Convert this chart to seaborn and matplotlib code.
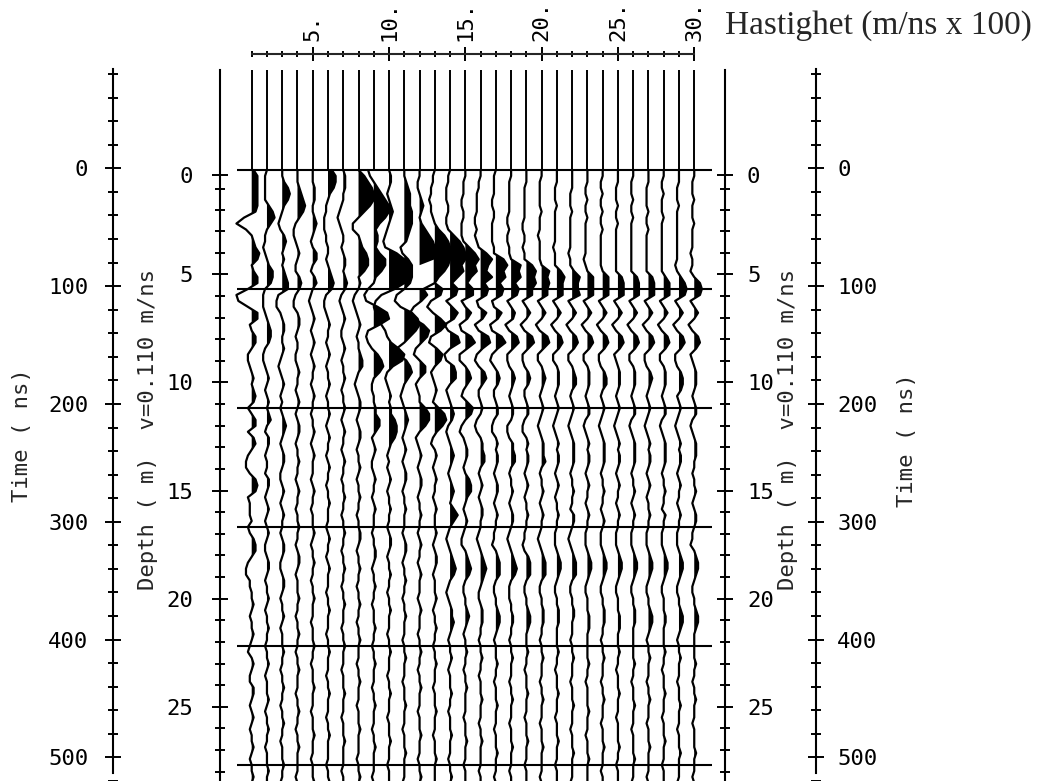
import numpy as np
import pandas as pd
import matplotlib
matplotlib.use("Agg")
import matplotlib.pyplot as plt
import seaborn as sns

sns.set_theme(style="white")
plt.rcParams['font.family'] = ['DejaVu Sans Mono', 'DejaVu Sans']

# ---------------- data ----------------
sample_step_ns = 5
trace_numbers = list(range(1, 31))
ruler_major = [5, 10, 15, 20, 25, 30]
time_major = [0, 100, 200, 300, 400, 500]
depth_major = [0, 5, 10, 15, 20, 25]
velocity = 0.110           # m/ns
title_text = "Hastighet (m/ns x 100)"
time_label = "Time ( ns)"
depth_label = "Depth ( m)  v=0.110 m/ns"

# amplitudes in tenths of a trace spacing, one sample every 5 ns from 0 to 520 ns
trace_01 = [1, 3, 3, 3, 3, 3, 3, 2, -4, -8,  -3, 0, 1, 2, 4, 3, 0, 1, 3, 3,
            -2, -8, -7, -2, 3, 3, -1, 0, 2, 2,  0, -2, -2, -1, 0, 1, 0, 1, 2, 1,
            -2, 0, 2, 2, -2, 1, 2, 0, -2, -3,  -3, -1, 2, 3, 2, -2, -1, -1, -1, 0,
            -2, -1, 1, 2, 2, 0, -2, -3, -3, -1,  -1, 0, 0, 1, 0, -1, 0, 0, 1, 0,
            -1, -2, 0, 1, 0, -1, -1, 1, 1, 0,  -1, 0, 1, 0, -1, 0, 0, 1, 0, -1,
            0, 0, 1, 0, 0]
trace_02 = [0, -1, -1, -1, -1, -1, 1, 3, 4, 2,  0, -1, -1, -2, -1, 0, 1, 3, 3, 2,
            -1, -2, -2, -2, -1, 0, 1, 2, 2, 1,  -1, -2, -2, -1, 0, 1, 0, -1, 0, 1,
            0, 1, 2, 0, -1, 1, 1, 0, -1, 0,  0, -1, 1, 1, 0, -1, 0, 1, 0, -1,
            0, 1, 0, -1, -1, 0, 1, 1, 0, -1,  0, 0, 1, 0, -1, 0, 0, 1, 0, 0,
            -1, 0, 0, 1, 0, -1, 0, 0, 0, 1,  0, -1, 0, 0, 1, 0, 0, -1, 0, 0,
            0, 1, 0, 0, -1]
trace_03 = [0, 0, 1, 3, 4, 3, 1, 0, -1, -2,  -1, 1, 2, 1, 0, 1, 0, 1, 2, 3,
            3, -2, -3, -3, -1, 0, 1, 1, 0, 0,  1, 0, -1, -2, -1, 0, 1, 0, -1, 0,
            -1, 0, 1, 2, 1, 0, -1, 0, 1, 1,  0, -1, -1, 0, 1, 0, -1, 0, 1, 0,
            0, -1, 0, 1, 1, 0, -1, -1, 0, 1,  1, 0, -1, 0, 0, 1, 0, -1, 0, 0,
            0, 1, 0, 0, -1, 0, 0, 1, 0, 0,  -1, 0, 0, 1, 0, 0, -1, 0, 0, 0,
            1, 0, 0, -1, 0]
trace_04 = [0, 0, 0, 1, 2, 3, 4, 3, 1, -1,  -2, -2, -1, 0, 1, 0, -1, -1, 1, 2,
            1, -1, -2, -2, 0, 1, 1, 0, -1, 0,  0, -1, -1, 0, 1, 0, 0, -1, 0, 1,
            0, -1, 0, 1, 1, 0, -1, 0, 0, 1,  0, 0, -1, 0, 1, 0, 0, -1, 0, 0,
            1, 0, 0, -1, 0, 1, 1, 0, -1, 0,  0, 0, 1, 0, 0, -1, 0, 0, 1, 0,
            0, -1, 0, 0, 1, 0, 0, 0, -1, 0,  0, 1, 0, 0, -1, 0, 0, 1, 0, 0,
            0, 0, -1, 0, 0]
trace_05 = [0, 0, 0, 1, 1, 1, 0, 0, 1, 2,  1, 0, -1, 0, 2, 2, 0, -1, 1, 2,
            0, -1, -2, -1, 0, 1, 0, -1, 0, 1,  0, -1, 0, 1, 0, 0, -1, 0, 1, 0,
            0, -1, 0, 0, 1, 0, -1, 0, 1, 0,  0, 0, -1, 0, 1, 0, 0, -1, 0, 0,
            0, 1, 0, -1, 0, 0, 1, 0, 0, -1,  0, 0, 1, 0, 0, 0, -1, 0, 0, 0,
            1, 0, 0, -1, 0, 0, 0, 1, 0, 0,  0, -1, 0, 0, 0, 1, 0, 0, 0, -1,
            0, 0, 0, 1, 0]
trace_06 = [2, 4, 4, 3, 1, 0, -1, -1, -2, -2,  -2, -1, -1, 0, 0, -1, 0, 1, 2, 3,
            2, -1, -2, -2, -1, 0, 1, 0, 0, -1,  0, 1, 0, -1, 0, 0, 1, 0, -1, 0,
            0, 1, 0, -1, 0, 1, 0, 0, -1, 0,  1, 0, 0, -1, 0, 0, 1, 0, 0, 0,
            -1, 0, 1, 0, 0, -1, 0, 1, 0, 0,  0, -1, 0, 0, 1, 0, 0, 0, -1, 0,
            0, 1, 0, 0, 0, -1, 0, 0, 1, 0,  0, 0, -1, 0, 0, 1, 0, 0, 0, 0,
            -1, 0, 0, 1, 0]
trace_07 = [0, 1, 1, 1, 0, 0, -1, -2, -3, -2,  -1, 0, 0, -1, 0, 1, 1, 0, 1, 2,
            1, -1, -2, -1, 0, 1, 0, -1, -1, 0,  1, 0, -1, 0, 0, 1, 0, -1, 0, 0,
            1, 0, -1, 0, 1, 0, 0, -1, 0, 1,  0, 0, -1, 0, 0, 1, 0, 0, -1, 0,
            0, 1, 0, 0, -1, 0, 0, 1, 0, 0,  -1, 0, 0, 1, 0, 0, 0, -1, 0, 0,
            1, 0, 0, 0, -1, 0, 0, 0, 1, 0,  0, 0, -1, 0, 0, 0, 1, 0, 0, 0,
            0, -1, 0, 0, 0]
trace_08 = [0, 3, 5, 7, 8, 8, 6, 3, 0, -3,  -3, 0, 1, 2, 4, 5, 5, 3, 0, 1,
            0, -2, -3, -2, -1, 0, 1, 0, -1, 0,  0, 1, 2, 2, 0, -1, -2, -1, 0, 1,
            1, 0, -1, 0, 1, 1, 0, -1, 0, 0,  1, 0, -1, 0, 0, 1, 0, 0, -1, 0,
            0, 1, 1, 0, -1, 0, 0, 1, 0, 0,  -1, 0, 0, 1, 0, 0, -1, 0, 0, 1,
            0, 0, 0, -1, 0, 0, 1, 0, 0, 0,  -1, 0, 0, 0, 1, 0, 0, 0, 0, -1,
            0, 0, 1, 0, 0]
trace_09 = [-3, -2, 0, 2, 4, 6, 8, 8, 6, 3,  1, 2, 2, 1, 3, 6, 6, 4, 1, 0,
            -3, -5, -4, 2, 7, 8, 3, -3, -4, -3,  -1, 2, 4, 5, 3, 0, -1, -1, 0, 0,
            1, 1, 3, 3, 1, -1, 0, 1, 0, -1,  -1, 0, 1, 0, 0, -1, 0, 1, 0, 0,
            0, -1, 0, 0, 1, 1, 0, -1, 0, 0,  1, 0, 0, -1, 0, 0, 0, 1, 0, 0,
            -1, 0, 0, 1, 0, 0, 0, -1, 0, 0,  1, 0, 0, 0, -1, 0, 0, 1, 0, 0,
            0, 0, -1, 0, 0]
trace_10 = [0, 1, 1, 0, -1, 0, 1, 2, 1, 0,  -1, -2, -3, -2, 4, 9, 10, 10, 10, 9,
            3, -4, -7, -8, -7, -5, -4, -2, -1, 1,  5, 8, 7, 2, -1, -2, -1, 0, 1, 0,
            1, 1, 3, 4, 4, 3, 1, 0, -1, 0,  -1, 0, 1, 0, -1, 0, 0, 1, 0, 0,
            -1, 0, 1, 1, 0, -1, 0, 0, 1, 0,  0, -1, 0, 0, 1, 0, 0, 0, -1, 0,
            0, 1, 0, 0, 0, -1, 0, 0, 1, 0,  0, 0, -1, 0, 0, 0, 1, 0, 0, 0,
            -1, 0, 0, 0, 1]
trace_11 = [0, 0, 1, 2, 3, 3, 3, 4, 4, 4,  3, 2, 1, -2, -1, 2, 4, 4, 4, 3,
            0, -4, -5, -2, 4, 7, 8, 6, 3, 0,  -4, -3, 1, 3, 4, 2, 0, -1, -2, -1,
            0, 1, 2, 1, 0, -1, 0, 1, 0, -1,  0, 1, 1, 0, -1, 0, 0, 1, 0, 0,
            0, -1, 0, 1, 1, 0, -1, 0, 0, 1,  0, 0, -1, 0, 0, 1, 0, 0, 0, -1,
            0, 0, 1, 0, 0, 0, -1, 0, 0, 0,  1, 0, 0, 0, -1, 0, 0, 0, 1, 0,
            0, 0, 0, -1, 0]
trace_12 = [0, 0, -1, -1, 0, 1, 2, 1, 0, 1,  3, 5, 7, 9, 10, 10, 12, 12, 12, 12,
            2, 4, 1, -3, -5, -3, 2, 5, 4, 1,  -2, -3, 0, 3, 3, 0, -2, -1, 0, 0,
            3, 5, 5, 3, 0, -2, -1, 0, 1, 0,  -1, 0, 1, 1, 0, -1, 0, 0, 1, 0,
            0, -1, 0, 1, 0, 0, -1, 0, 1, 0,  0, 0, -1, 0, 1, 0, 0, 0, -1, 0,
            0, 1, 0, 0, -1, 0, 0, 1, 0, 0,  0, -1, 0, 0, 0, 1, 0, 0, 0, -1,
            0, 0, 1, 0, 0]
trace_13 = [0, -1, -1, -2, -2, -3, -2, -2, -1, 0,  2, 5, 7, 9, 9, 8, 7, 5, 2, 0,
            4, 3, -2, -4, -1, 3, 6, 3, -2, -3,  1, 4, 3, 0, -2, -1, 0, 1, 0, -1,
            2, 5, 6, 4, 1, -1, -2, 0, 1, 0,  -1, 0, 1, 0, 0, -1, 0, 1, 0, 0,
            0, 1, 0, -1, 0, 1, 1, 0, -1, 0,  0, 0, 1, 0, -1, 0, 0, 1, 0, 0,
            -1, 0, 0, 1, 0, 0, 0, -1, 0, 0,  0, 1, 0, 0, 0, -1, 0, 0, 0, 1,
            0, 0, 0, 0, -1]
trace_14 = [0, -1, -1, -2, -2, -2, -1, -1, -2, -2,  -1, 2, 5, 7, 9, 8, 6, 7, 4, 1,
            4, 3, -2, 1, 4, 2, -3, -1, 4, 5,  0, -3, -2, 2, 3, 3, 0, -2, -1, 0,
            1, 2, 1, -1, -2, -1, 0, 1, 2, 1,  0, -1, 0, 1, 2, 1, 0, 2, 4, 2,
            0, -1, -2, -1, 0, 1, 2, 3, 2, 0,  -1, -2, -1, 0, 1, 1, 2, 1, 0, -1,
            0, 0, 1, 0, -1, 0, 0, 0, 1, 0,  0, -1, 0, 0, 0, 1, 0, 0, 0, -1,
            0, 0, 1, 0, 0]
trace_15 = [0, 0, -1, -1, -1, -2, -2, -1, -1, -2,  -2, -2, -1, 2, 5, 7, 5, 6, 3, 1,
            4, 4, -2, 0, 3, 1, -3, -2, 3, 5,  1, -3, -3, 0, 2, 3, 1, -1, -2, 1,
            4, 3, 0, -2, -3, -1, 0, 1, 1, 0,  -1, 0, 2, 3, 3, 1, 0, -1, 0, 1,
            0, -1, -2, -2, 0, 1, 2, 3, 2, 0,  -1, -1, 0, 0, 1, 2, 1, 0, -1, 0,
            0, 1, 0, 0, -1, 0, 0, 1, 0, 0,  0, 0, -1, 0, 0, 0, 1, 0, 0, 0,
            -1, 0, 0, 0, 1]
trace_16 = [0, 0, -1, -1, -2, -2, -2, -2, -3, -3,  -2, -3, -2, -1, 3, 6, 4, 3, 6, 2,
            4, 3, -2, -1, 3, 1, -3, -1, 4, 5,  1, -2, -3, -1, 2, 3, 1, -1, -1, 0,
            1, 0, -2, -3, -2, 0, 1, 1, 2, 2,  0, -1, 0, 1, 0, -1, 0, 1, 1, 0,
            0, -1, -2, -1, 0, 1, 2, 3, 2, 1,  0, -1, -1, 0, 1, 1, 1, 0, 0, -1,
            0, 0, 1, 0, 0, -1, 0, 0, 0, 1,  0, 0, 0, -1, 0, 0, 1, 0, 0, 0,
            0, -1, 0, 0, 0]
trace_17 = [0, -1, -1, -1, -1, -2, -2, -1, -1, -2,  -2, -2, -2, -1, -1, 4, 6, 4, 5, 2,
            4, 3, -2, -1, 3, 1, -3, -2, 3, 5,  1, -2, -3, -1, 1, 2, 1, -1, -1, 0,
            1, 1, -1, -2, -2, 0, 1, 0, 1, 1,  0, -1, 0, 1, 1, 0, -1, 0, 1, 0,
            0, -1, -1, -2, 0, 1, 2, 2, 2, 0,  -1, -1, 0, 0, 1, 2, 2, 1, 0, -1,
            0, 0, 0, 1, 0, 0, -1, 0, 0, 0,  1, 0, 0, 0, -1, 0, 0, 0, 1, 0,
            0, 0, -1, 0, 0]
trace_18 = [0, 0, -1, -1, -1, -1, -1, -1, -2, -2,  -1, -2, -2, -1, -1, 0, 5, 4, 5, 2,
            4, 3, -2, 0, 2, 1, -3, -1, 3, 4,  1, -2, -2, -1, 1, 2, 1, 0, -1, 0,
            1, 1, 0, -2, -2, -1, 1, 1, 2, 2,  0, -1, 0, 0, 1, 0, -1, 0, 1, 1,
            0, -1, -2, -1, 0, 1, 2, 3, 2, 0,  -1, -1, -1, 0, 0, 1, 1, 0, 0, -1,
            0, 0, 1, 0, 0, 0, -1, 0, 0, 1,  0, 0, 0, -1, 0, 0, 0, 1, 0, 0,
            0, -1, 0, 0, 0]
trace_19 = [0, 0, 0, -1, -1, -1, -1, -1, -1, -2,  -2, -1, -1, -2, -1, -1, 3, 5, 4, 5,
            3, 3, -2, 0, 2, 0, -3, -1, 3, 4,  1, -2, -2, -1, 1, 2, 1, -1, -1, 0,
            1, 1, -1, -2, -2, 0, 1, 0, 1, 1,  0, -1, 0, 1, 0, -1, 0, 0, 1, 0,
            0, -1, -1, -2, -1, 1, 2, 2, 2, 0,  -1, -1, 0, 0, 1, 2, 2, 1, 0, 0,
            0, 1, 0, 0, -1, 0, 0, 0, 1, 0,  0, 0, -1, 0, 0, 0, 1, 0, 0, 0,
            -1, 0, 0, 0, 1]
trace_20 = [0, 0, -1, -1, -1, -1, -1, 0, -1, -1,  -1, -2, -1, -1, -1, -1, 0, 4, 3, 4,
            3, 3, -2, 0, 2, 0, -3, -1, 3, 4,  1, -2, -2, 0, 1, 2, 1, 0, -1, 0,
            1, 0, -1, -2, -1, 0, 1, 1, 1, 2,  0, -1, 0, 0, 1, 0, -1, 0, 1, 0,
            0, -1, -2, -1, 0, 1, 2, 2, 2, 0,  -1, -1, 0, 0, 1, 1, 1, 0, 0, -1,
            0, 0, 1, 0, 0, 0, -1, 0, 0, 1,  0, 0, 0, -1, 0, 0, 0, 1, 0, 0,
            0, 0, -1, 0, 0]
trace_21 = [0, 0, 0, -1, -1, -1, 0, -1, -1, -1,  -1, -1, -1, -2, -1, -1, -1, 2, 4, 3,
            3, 3, -2, 0, 2, 0, -3, -1, 2, 3,  1, -2, -2, 0, 1, 1, 1, 0, -1, 0,
            1, 0, -1, -2, -1, 0, 1, 0, 1, 1,  0, -1, 0, 1, 0, -1, 0, 0, 1, 0,
            0, -1, -1, -1, 0, 1, 2, 2, 1, 0,  -1, -1, 0, 0, 1, 1, 1, 0, 0, 0,
            0, 1, 0, 0, -1, 0, 0, 0, 1, 0,  0, 0, -1, 0, 0, 0, 1, 0, 0, 0,
            -1, 0, 0, 0, 0]
trace_22 = [0, 0, 0, 0, -1, -1, -1, 0, -1, -1,  -1, -1, -1, -1, -2, -1, -1, 1, 4, 3,
            3, 4, -2, 0, 2, 0, -3, -1, 2, 3,  1, -2, -2, 0, 1, 2, 2, 0, -1, 0,
            1, 0, -1, -2, -1, 0, 1, 1, 1, 1,  0, -1, 0, 0, 1, 0, 0, -1, 1, 1,
            0, -1, -2, -1, 0, 1, 2, 2, 2, 0,  -1, -1, 0, 0, 1, 1, 0, 0, 0, -1,
            0, 0, 1, 0, 0, 0, -1, 0, 0, 0,  1, 0, 0, 0, -1, 0, 0, 0, 1, 0,
            0, 0, 0, -1, 0]
trace_23 = [0, 0, 0, -1, -1, 0, -1, -1, 0, -1,  -1, -1, -1, -1, -1, -2, -1, 0, 3, 3,
            3, 3, -2, 0, 2, 0, -3, -1, 2, 3,  1, -2, -2, 0, 1, 1, 1, 0, -1, 0,
            1, 1, -1, -2, -1, 0, 1, 0, 1, 1,  0, -1, 0, 1, 0, 0, -1, 0, 1, 0,
            0, -1, -1, -1, 0, 1, 2, 2, 1, 0,  -1, -1, 0, 0, 0, 1, 1, 1, 0, 0,
            0, 0, 0, 1, 0, 0, -1, 0, 0, 0,  0, 1, 0, 0, 0, -1, 0, 0, 0, 1,
            0, 0, 0, 0, -1]
trace_24 = [0, 0, -1, -1, 0, -1, -1, 0, -1, -1,  0, -1, -1, -1, -1, -1, -1, 0, 3, 3,
            3, 3, -2, 0, 2, 0, -3, -1, 2, 3,  1, -2, -2, -1, 1, 2, 2, 0, -1, 0,
            1, 0, -1, -2, -1, 0, 1, 1, 1, 1,  0, -1, 0, 0, 1, 0, 0, -1, 0, 1,
            0, -1, -1, -1, 0, 1, 2, 2, 1, 0,  -1, -1, 0, 0, 1, 1, 1, 0, 0, -1,
            0, 0, 1, 0, 0, 0, -1, 0, 0, 1,  0, 0, 0, -1, 0, 0, 0, 1, 0, 0,
            0, -1, 0, 0, 0]
trace_25 = [0, 0, 0, -1, -1, -1, 0, -1, -1, 0,  -1, -1, -1, -1, -1, -1, -1, -1, 2, 3,
            3, 3, -2, 0, 2, 0, -3, -1, 2, 3,  1, -2, -1, 0, 1, 1, 1, 0, -1, 0,
            1, 0, -1, -2, -1, 0, 1, 0, 1, 1,  0, -1, 0, 1, 0, 0, -1, 0, 1, 0,
            0, -1, -1, -1, 0, 1, 2, 2, 1, 0,  -1, -1, 0, 0, 0, 1, 1, 1, 0, 0,
            0, 1, 0, 0, -1, 0, 0, 0, 1, 0,  0, 0, -1, 0, 0, 0, 0, 1, 0, 0,
            -1, 0, 0, 0, 0]
trace_26 = [0, 0, -1, -1, -1, 0, -1, -1, 0, -1,  -1, -1, -1, -1, -1, -1, -1, -1, 2, 3,
            3, 3, -2, 0, 2, 0, -3, -1, 2, 3,  1, -2, -2, 0, 1, 1, 1, 0, -1, 0,
            1, 1, -1, -2, -1, 0, 1, 1, 1, 1,  0, -1, 0, 0, 1, 0, -1, 0, 1, 0,
            0, -1, -1, -1, 0, 1, 2, 2, 1, 0,  -1, -1, 0, 0, 1, 1, 1, 0, 0, 0,
            0, 0, 0, 1, 0, 0, -1, 0, 0, 0,  1, 0, 0, 0, -1, 0, 0, 0, 0, 1,
            0, 0, 0, -1, 0]
trace_27 = [0, 0, 0, -1, -1, -1, -1, 0, -1, -1,  0, -1, -1, -1, -1, -1, -1, -1, 2, 3,
            3, 3, -2, 0, 2, 0, -3, -1, 2, 3,  1, -2, -2, -1, 1, 2, 1, 0, -1, 0,
            1, 0, -1, -2, -1, 0, 1, 0, 1, 1,  0, -1, 0, 1, 0, -1, 0, 0, 1, 0,
            0, -1, -1, -1, 0, 1, 2, 2, 1, 0,  -1, -1, 0, 0, 1, 2, 2, 1, 0, -1,
            0, 0, 1, 0, 0, 0, -1, 0, 0, 1,  0, 0, 0, -1, 0, 0, 0, 1, 0, 0,
            0, 0, -1, 0, 0]
trace_28 = [0, 0, -1, -1, 0, -1, -1, -1, 0, -1,  -1, -1, -1, -1, -1, -1, -1, -1, 1, 3,
            3, 3, -2, 0, 2, 0, -3, -1, 2, 3,  1, -2, -2, 0, 1, 1, 1, 0, -1, 0,
            1, 1, -1, -2, -1, 0, 1, 1, 1, 1,  0, -1, 0, 0, 1, 0, 0, -1, 1, 0,
            0, -1, -1, -1, 0, 1, 2, 2, 1, 0,  -1, -1, 0, 0, 0, 1, 1, 0, 0, 0,
            0, 1, 0, 0, -1, 0, 0, 0, 1, 0,  0, 0, -1, 0, 0, 0, 1, 0, 0, 0,
            -1, 0, 0, 0, 1]
trace_29 = [0, 0, 0, -1, -1, -1, 0, -1, -1, -1,  -1, -1, -1, -1, -1, -1, -2, -1, 1, 3,
            4, 3, -2, 0, 2, 0, -3, -1, 2, 3,  1, -2, -2, -1, 1, 2, 2, 1, -1, 0,
            1, 0, -1, -2, -1, 0, 1, 0, 1, 1,  0, -1, 0, 1, 0, 0, -1, 0, 1, 0,
            0, -1, -1, -1, 0, 1, 2, 2, 1, 0,  -1, -1, 0, 0, 1, 2, 2, 1, 0, -1,
            0, 0, 1, 0, 0, 0, -1, 0, 0, 0,  1, 0, 0, 0, -1, 0, 0, 0, 1, 0,
            0, 0, 0, -1, 0]
trace_30 = [0, 0, -1, -1, -1, 0, -1, -1, -1, 0,  -1, -1, -1, -1, -2, -1, -1, -2, 0, 3,
            4, 3, -2, 0, 2, 0, -3, -1, 2, 3,  1, -2, -1, 0, 1, 1, 1, 0, -1, 0,
            1, 1, -1, -2, -1, 0, 1, 1, 1, 0,  0, -1, 0, 0, 1, 0, -1, 0, 1, 1,
            0, -1, -1, -2, 0, 1, 2, 2, 1, 0,  -1, -1, 0, 0, 1, 2, 2, 1, 0, 0,
            0, 0, 0, 1, 0, 0, -1, 0, 0, 1,  0, 0, 0, -1, 0, 0, 0, 0, 1, 0,
            0, 0, -1, 0, 0]

traces = [trace_01, trace_02, trace_03, trace_04, trace_05, trace_06, trace_07,
          trace_08, trace_09, trace_10, trace_11, trace_12, trace_13, trace_14,
          trace_15, trace_16, trace_17, trace_18, trace_19, trace_20, trace_21,
          trace_22, trace_23, trace_24, trace_25, trace_26, trace_27, trace_28,
          trace_29, trace_30]

n_samp = max(len(tr) for tr in traces)
fixed = []
for tr in traces:
    tr = list(tr)[:n_samp]
    tr = tr + [0] * (n_samp - len(tr))
    fixed.append(tr)
traces = fixed
times = np.arange(n_samp) * sample_step_ns

# ---------------- layout (pixel geometry of the reference) ----------------
W, H = 1040, 781
X1, DX = 251.7, 15.26      # px of trace 1, px per trace
T0, PXNS = 170.0, 1.19     # px of t=0, px per ns
xlim = (1 - X1 / DX, 1 + (W - X1) / DX)
ylim = ((H - T0) / PXNS, -T0 / PXNS)
T_TOP = -84.0
GAIN = 1.25                # display gain of the wiggles

def px_to_x(px):
    return 1 + (px - X1) / DX

def depth_to_time(d):
    d = np.asarray(d, float)
    return 2 * np.sqrt(d ** 2 + 0.42 ** 2) / velocity - 3.5

fig = plt.figure(figsize=(W / 100, H / 100), dpi=100)
ax = fig.add_axes([0, 0, 1, 1])
ax.set_xlim(xlim)
ax.set_ylim(ylim)
ax.axis('off')

# long-form table for seaborn
rows = []
for k, tr in zip(trace_numbers, traces):
    a = np.array(tr, float) / 10.0
    a_draw = np.minimum(a * GAIN, 1.0)
    for t, v in zip(times, a_draw):
        rows.append((k, t, k + v))
df = pd.DataFrame(rows, columns=["trace", "time", "xpos"])

# straight leaders above time zero
ax.vlines(trace_numbers, T_TOP, 0, color='black', lw=1.4)

sns.lineplot(data=df, x="xpos", y="time", units="trace", estimator=None,
             orient="y", sort=False, color="black", linewidth=1.6,
             legend=False, ax=ax)

for k, tr in zip(trace_numbers, traces):
    a = np.array(tr, float) / 10.0
    a_draw = np.minimum(a * GAIN, 1.0)
    mask = (a > 0) & (a <= 1.0)
    ax.fill_betweenx(times, k, k + a_draw, where=mask, interpolate=True,
                     color='black', linewidth=0)

ax.hlines(time_major, px_to_x(237), px_to_x(712), color='black', lw=1.5)
ax.set_xlabel(""); ax.set_ylabel("")
ax.set_xlim(xlim); ax.set_ylim(ylim)

FS = 16
tick_kw = dict(direction='inout', width=1.4, colors='black')

def vertical_axis(xpx, side, major, labels, minor, pad, top):
    a = fig.add_axes([xpx / W, 0, 0.0001, 1])
    a.set_ylim(ylim)
    a.set_xticks([])
    a.patch.set_visible(False)
    for s in a.spines.values():
        s.set_visible(False)
    sp = a.spines[side]
    sp.set_visible(True)
    sp.set_linewidth(1.5)
    sp.set_color('black')
    sp.set_bounds(top, ylim[0])
    a.yaxis.set_ticks_position(side)
    a.set_yticks(major)
    a.set_yticklabels(labels, fontsize=FS, family=['DejaVu Sans Mono'])
    a.set_yticks(minor, minor=True)
    a.tick_params(axis='y', which='major', length=11.5, pad=pad, **tick_kw)
    a.tick_params(axis='y', which='minor', length=7.2, **tick_kw)
    return a

time_minor = list(range(-80, 521, 20))
depth_minor_vals = np.arange(0, 29, 1)
vertical_axis(113, 'left', time_major, [str(v) for v in time_major],
              time_minor, 12.0, T_TOP)
vertical_axis(220, 'left', depth_to_time(depth_major),
              [str(v) for v in depth_major], depth_to_time(depth_minor_vals),
              13.5, T_TOP)
vertical_axis(725, 'right', depth_to_time(depth_major),
              [str(v) for v in depth_major], depth_to_time(depth_minor_vals),
              10.0, T_TOP)
vertical_axis(816, 'right', time_major, [str(v) for v in time_major],
              time_minor, 9.5, T_TOP)

# top ruler
r = fig.add_axes([0, 1 - 54 / H, 1, 0.0001])
r.set_xlim(xlim)
r.set_yticks([])
r.patch.set_visible(False)
for s in r.spines.values():
    s.set_visible(False)
r.spines['top'].set_visible(True)
r.spines['top'].set_linewidth(1.5)
r.spines['top'].set_bounds(1, 30)
r.xaxis.set_ticks_position('top')
r.set_xticks(ruler_major)
r.set_xticklabels([f"{v}." for v in ruler_major], rotation=90, fontsize=FS,
                  family=['DejaVu Sans Mono'])
r.set_xticks(trace_numbers, minor=True)
r.tick_params(axis='x', which='major', length=10, pad=4, **tick_kw)
r.tick_params(axis='x', which='minor', length=5, **tick_kw)

# labels
fig.text(22 / W, 1 - 435 / H, time_label, rotation=90, ha='center', va='center',
         fontsize=FS, family=['DejaVu Sans Mono'])
fig.text(907 / W, 1 - 440 / H, time_label, rotation=90, ha='center', va='center',
         fontsize=FS, family=['DejaVu Sans Mono'])
fig.text(148 / W, 1 - 429 / H, depth_label, rotation=90, ha='center', va='center',
         fontsize=FS, family=['DejaVu Sans Mono'])
fig.text(788 / W, 1 - 429 / H, depth_label, rotation=90, ha='center', va='center',
         fontsize=FS, family=['DejaVu Sans Mono'])
fig.text(878 / W, 1 - 26 / H, title_text, ha='center', va='center',
         fontsize=24, family=['Liberation Serif', 'DejaVu Serif'])

fig.savefig("out.png", dpi=100, facecolor='white')
